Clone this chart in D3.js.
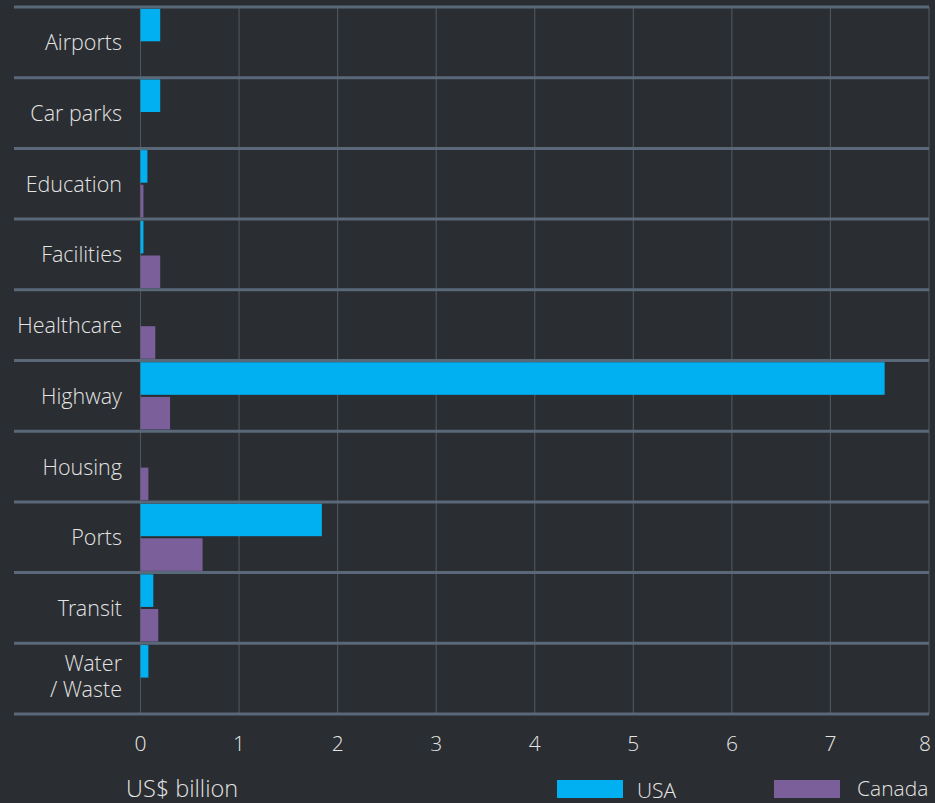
<!DOCTYPE html>
<html>
<head>
<meta charset="utf-8">
<script src="https://d3js.org/d3.v7.min.js"></script>
<style>
  html, body { margin: 0; padding: 0; background: #2a2d31; }
  svg { display: block; font-family: "Open Sans Light", "Open Sans", sans-serif; font-weight: 300; }
</style>
</head>
<body>
<svg id="chart"></svg>
<script>
(function(){

  // data
  const categories = ["Airports", "Car parks", "Education", "Facilities", "Healthcare",
                      "Highway", "Housing", "Ports", "Transit", "Water / Waste"];
  const seriesNames = ["USA", "Canada"];
  const usaValues    = [0.20, 0.20, 0.07, 0.03, 0,    7.55, 0,    1.84, 0.13, 0.08];
  const canadaValues = [0,    0,    0.03, 0.20, 0.15, 0.30, 0.08, 0.63, 0.18, 0];
  const xTicks = [0, 1, 2, 3, 4, 5, 6, 7, 8];

  const W = 935, H = 803;
  const svg = d3.select("#chart").attr("width", W).attr("height", H);

  const colours = d3.scaleOrdinal().domain(seriesNames).range(["#00b0f0", "#7b5f9b"]);

  const xScale = d3.scaleLinear().domain([0, 8]).range([140.5, 929]);
  const yScale = d3.scaleBand().domain(categories).range([7, 714]).paddingInner(0).paddingOuter(0);
  const ySub = d3.scaleBand().domain(seriesNames).range([0, yScale.bandwidth()]).paddingInner(0.06).paddingOuter(0.05);

  const rows = categories.map((c, i) => ({
    cat: c,
    values: [{name: "USA", v: usaValues[i]}, {name: "Canada", v: canadaValues[i]}]
  }));

  // vertical gridlines
  svg.append("g")
    .selectAll("line")
    .data(xTicks)
    .join("line")
      .attr("x1", d => xScale(d)).attr("x2", d => xScale(d))
      .attr("y1", yScale.range()[0]).attr("y2", yScale.range()[1])
      .attr("stroke", "#4b555e")
      .attr("stroke-width", 1.2);

  // bars
  const groups = svg.append("g")
    .selectAll("g")
    .data(rows)
    .join("g")
      .attr("transform", d => "translate(0," + yScale(d.cat) + ")");

  groups.selectAll("rect")
    .data(d => d.values.filter(v => v.v > 0))
    .join("rect")
      .attr("x", xScale(0))
      .attr("y", d => ySub(d.name))
      .attr("width", d => xScale(d.v) - xScale(0))
      .attr("height", ySub.bandwidth())
      .attr("fill", d => colours(d.name));

  // row separators
  const seps = categories.map(c => yScale(c)).concat([yScale.range()[1]]);
  svg.append("g")
    .selectAll("line")
    .data(seps)
    .join("line")
      .attr("x1", 14).attr("x2", 929)
      .attr("y1", d => d).attr("y2", d => d)
      .attr("stroke", "#5a6979")
      .attr("stroke-width", 3);

  // category labels
  const labels = svg.append("g")
    .selectAll("text")
    .data(categories)
    .join("text")
      .attr("x", 122)
      .attr("text-anchor", "end")
      .attr("fill", "#e4e4e4")
      .style("font-size", "21.5px");

  labels.each(function(d) {
    const parts = d === "Water / Waste" ? ["Water", "/ Waste"] : [d];
    const cy = yScale(d) + yScale.bandwidth() / 2;
    const t = d3.select(this);
    parts.forEach((p, i) => {
      t.append("tspan")
        .attr("x", 122)
        .attr("y", cy + 8 + (i - (parts.length - 1) / 2) * 26 - (parts.length > 1 ? 3 : 0))
        .text(p);
    });
  });

  // x axis tick labels
  svg.append("g")
    .selectAll("text")
    .data(xTicks)
    .join("text")
      .attr("x", d => d === 8 ? xScale(d) - 4 : xScale(d))
      .attr("y", 751)
      .attr("text-anchor", "middle")
      .attr("fill", "#e4e4e4")
      .style("font-size", "21px")
      .text(d => d);

  svg.append("text")
    .attr("x", 126)
    .attr("y", 797)
    .attr("fill", "#e4e4e4")
    .style("font-size", "23.5px")
    .text("US$ billion");

  // legend
  const legendX = [557, 774];
  const legend = svg.append("g")
    .selectAll("g")
    .data(seriesNames)
    .join("g")
      .attr("transform", (d, i) => "translate(" + legendX[i] + ",780)");

  legend.append("rect")
    .attr("width", 66).attr("height", 18)
    .attr("fill", d => colours(d));

  legend.append("text")
    .attr("x", d => d === "USA" ? 80 : 83)
    .attr("y", d => d === "USA" ? 18 : 16)
    .attr("fill", "#e4e4e4")
    .style("font-size", "21px")
    .text(d => d);

})();
</script>
</body>
</html>
